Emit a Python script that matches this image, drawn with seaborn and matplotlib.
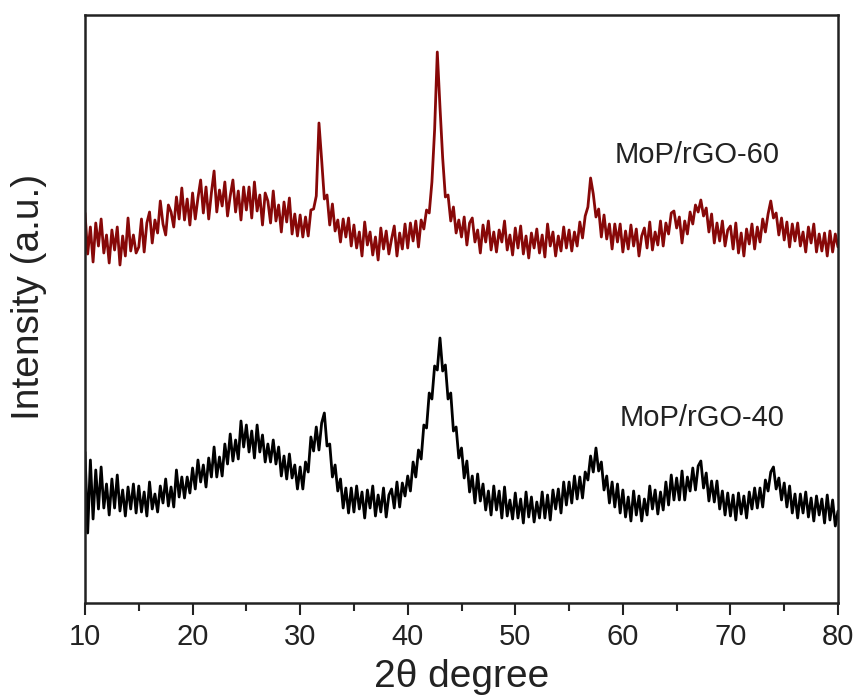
"""XRD patterns of MoP/rGO-40 and MoP/rGO-60 (stacked, arbitrary units)."""
import matplotlib
matplotlib.use("Agg")
import matplotlib.pyplot as plt
import numpy as np
import pandas as pd
import seaborn as sns

# 2-theta grid, 10..80 deg in 0.25 deg steps (281 points)
two_theta = np.round(np.arange(10.0, 80.0001, 0.25), 2)

# MoP/rGO-60 (upper trace), intensity in a.u.
mop_rgo_60 = [
    390, 349, 376, 341, 380, 357, 384, 350, 368, 340, 373, 353, 376, 338, 367, 347, 385, 352, 368, 350,  # 10-14.75
    356, 384, 351, 380, 391, 360, 383, 370, 402, 379, 368, 398, 391, 376, 406, 384, 415, 383, 404, 378,  # 15-19.75
    410, 384, 405, 423, 390, 416, 384, 410, 432, 391, 413, 397, 421, 387, 407, 423, 391, 412, 383, 416,  # 20-24.75
    393, 416, 385, 421, 392, 408, 378, 410, 402, 380, 412, 382, 398, 371, 401, 381, 405, 369, 389, 367,  # 25-29.75
    388, 366, 386, 367, 393, 394, 407, 480, 443, 404, 408, 378, 399, 372, 383, 361, 384, 366, 385, 357,  # 30-34.75
    378, 355, 371, 347, 381, 358, 371, 348, 366, 343, 375, 354, 372, 349, 364, 377, 347, 370, 354, 379,  # 35-39.75
    355, 380, 362, 382, 356, 383, 374, 393, 390, 421, 473, 551, 496, 445, 406, 408, 382, 396, 370, 383,  # 40-44.75
    366, 386, 358, 380, 385, 361, 373, 350, 378, 361, 382, 353, 371, 351, 373, 361, 382, 353, 368, 348,  # 45-49.75
    375, 355, 377, 349, 367, 345, 370, 355, 374, 350, 368, 346, 379, 357, 371, 347, 367, 352, 376, 355,  # 50-54.75
    373, 352, 371, 357, 381, 365, 387, 396, 425, 409, 386, 394, 366, 388, 364, 379, 354, 379, 361, 379,  # 55-59.75
    351, 372, 354, 378, 357, 374, 347, 367, 375, 355, 381, 353, 371, 358, 382, 357, 380, 369, 390, 392,  # 60-64.75
    375, 386, 360, 382, 369, 391, 379, 398, 391, 403, 387, 395, 371, 389, 360, 380, 362, 382, 357, 373,  # 65-69.75
    377, 354, 380, 350, 370, 347, 374, 359, 379, 354, 376, 361, 384, 371, 389, 402, 385, 390, 368, 385,  # 70-74.75
    363, 381, 356, 379, 362, 380, 357, 371, 351, 376, 360, 379, 351, 369, 352, 370, 347, 372, 351, 369,  # 75-79.75
    356,
]

# MoP/rGO-40 (lower trace)
mop_rgo_40 = [
    151, 70, 143, 84, 133, 94, 136, 95, 119, 88, 124, 95, 128, 92, 113, 87, 116, 94, 119, 90,  # 10-14.75
    117, 91, 111, 87, 121, 94, 109, 91, 117, 100, 124, 97, 116, 96, 133, 106, 126, 105, 126, 110,  # 15-19.75
    135, 114, 143, 121, 138, 116, 145, 126, 156, 126, 146, 127, 159, 139, 169, 142, 163, 144, 182, 156,  # 20-24.75
    178, 151, 172, 145, 178, 151, 168, 141, 159, 141, 163, 139, 156, 127, 147, 124, 149, 125, 138, 114,  # 25-29.75
    136, 114, 141, 131, 166, 152, 176, 153, 180, 190, 157, 159, 126, 138, 112, 124, 95, 115, 90, 115,  # 30-34.75
    91, 117, 94, 111, 85, 113, 95, 117, 87, 108, 91, 115, 86, 108, 114, 95, 121, 96, 120, 107,  # 35-39.75
    127, 112, 141, 126, 153, 144, 178, 175, 210, 204, 237, 233, 265, 232, 238, 204, 210, 172, 176, 145,  # 40-44.75
    155, 125, 142, 111, 127, 100, 129, 102, 119, 93, 112, 88, 117, 93, 112, 85, 116, 87, 103, 84,  # 45-49.75
    110, 85, 104, 80, 111, 86, 106, 81, 101, 85, 111, 85, 108, 83, 113, 94, 114, 90, 121, 98,  # 50-54.75
    121, 100, 127, 104, 126, 105, 131, 123, 147, 131, 155, 132, 141, 113, 127, 100, 121, 96, 119, 90,  # 55-59.75
    113, 86, 106, 82, 112, 88, 107, 82, 104, 88, 117, 94, 113, 89, 111, 93, 121, 98, 128, 103,  # 60-64.75
    125, 103, 132, 103, 126, 112, 135, 113, 137, 142, 115, 130, 102, 122, 101, 122, 94, 112, 88, 110,  # 65-69.75
    87, 108, 83, 110, 89, 107, 85, 111, 94, 115, 95, 115, 96, 123, 112, 131, 136, 114, 125, 103,  # 70-74.75
    120, 96, 117, 90, 109, 85, 109, 90, 111, 86, 105, 82, 107, 88, 104, 80, 108, 83, 103, 77,  # 75-79.75
    92,
]

sample_labels = ["MoP/rGO-60", "MoP/rGO-40"]
label_x = [66.9, 67.4]
label_y = [448, 185]

xticks = [10, 20, 30, 40, 50, 60, 70, 80]

sns.set_theme(style="ticks")
plt.rcParams["font.family"] = ["Liberation Sans", "DejaVu Sans"]

fig = plt.figure(figsize=(8.57, 6.99), dpi=100)
ax = fig.add_axes([85 / 857, 96 / 699, 753 / 857, 588 / 699])

df = pd.DataFrame({"two_theta": two_theta, "MoP/rGO-60": mop_rgo_60, "MoP/rGO-40": mop_rgo_40})
sns.lineplot(data=df, x="two_theta", y="MoP/rGO-60", color="#870808", lw=2.0, estimator=None, ax=ax)
sns.lineplot(data=df, x="two_theta", y="MoP/rGO-40", color="black", lw=2.0, estimator=None, ax=ax)

for txt, tx, ty in zip(sample_labels, label_x, label_y):
    ax.text(tx, ty, txt, ha="center", va="center", fontsize=21, color="#222222")

ax.set_xlim(10, 80)
ax.set_ylim(0, 588)
ax.set_xticks(xticks)
ax.set_xticks(np.arange(15, 80, 10), minor=True)
ax.set_yticks([])
ax.tick_params(axis="x", which="major", length=8.5, width=1.5, pad=6, labelsize=21, colors="#222222")
ax.tick_params(axis="x", which="minor", length=5.5, width=1.5)
for sp in ax.spines.values():
    sp.set_linewidth(1.8)
    sp.set_color("#222222")

ax.set_xlabel("2θ degree", fontsize=28, color="#222222", labelpad=6)
ax.set_ylabel("Intensity (a.u.)", fontsize=28, color="#222222")
ax.yaxis.set_label_coords(-0.05, 0.52)

fig.savefig("out.png", dpi=100)
